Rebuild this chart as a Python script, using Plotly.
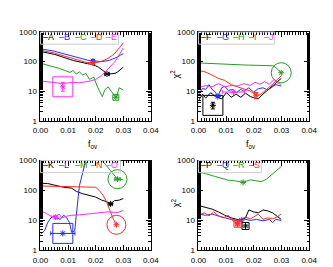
import plotly.graph_objects as go

W, H = 333, 267

# ---------------- data ----------------
# Panel 1 (A-E)
fA = [0, .001, .002, .003, .004, .005, .006, .007, .008, .009, .010, .011, .012, .013, .014, .015,
      .016, .017, .018, .019, .020, .021, .022, .023, .024, .025, .026, .027, .028, .029, .030]
chiA = [220, 212, 205, 195, 185, 175, 165, 152, 140, 130, 122, 115, 108, 102, 97, 92,
        88, 85, 82, 78, 72, 65, 55, 45, 40, 38, 40, 40, 45, 55, 65]
fB = fA
chiB = [270, 262, 255, 245, 235, 225, 212, 200, 185, 172, 160, 150, 142, 135, 128, 122,
        116, 112, 108, 105, 103, 101, 100, 102, 105, 110, 120, 130, 145, 165, 185]
fC = [0, .002, .004, .007, .0107, .0118, .0130, .0141, .0153, .0164, .0178, .0193, .0205,
      .0224, .0233, .0245, .0256, .0275, .0285, .030]
chiC = [88, 78, 68, 58, 43, 50, 38, 45, 35, 40, 25, 30, 15, 6.5, 11, 14, 10, 6, 13, 11]
fD = fA
chiD = [240, 232, 225, 215, 205, 195, 182, 170, 158, 148, 138, 130, 122, 115, 108, 102,
        97, 93, 91, 90, 92, 95, 100, 110, 122, 138, 160, 195, 245, 320, 430]
fE = [0, .002, .004, .006, .008, .010, .012, .014, .016, .018, .020, .021, .022, .023, .024,
      .025, .026, .027, .028, .029, .030]
chiE = [22, 21, 20, 19, 18, 19, 20, 19, 20, 22, 25, 28, 33, 40, 50, 60, 75, 100, 140, 200, 290]

# Panel 2 (F-J)
fF = [0, .0015, .0026, .0044, .0061, .0084, .0101, .0118, .0136, .0153, .0170, .0187, .0204,
      .0216, .0233, .0245, .0262, .0279, .0299]
chiF = [4.8, 7.9, 5.8, 8.9, 6.6, 5.5, 8.9, 6.2, 7.9, 6.2, 8.5, 6.6, 5.8, 5.5, 7.9, 10, 13, 19, 27]
fG = [0, .0015, .0026, .0038, .0049, .0061, .0070, .0084, .0095, .0107, .0124, .0136, .0153,
      .0164, .0182, .0199, .0216, .0233, .0250, .0268, .0279, .0299]
chiG = [7.9, 12.3, 11.4, 16.6, 11.4, 9.3, 6.6, 13, 14.7, 10.6, 11.4, 8.9, 11.4, 10, 13, 9.3,
        12, 13, 10.9, 14, 16.6, 14.7]
fH = [0, .002, .004, .006, .008, .010, .012, .014, .016, .018, .020, .022, .024, .026, .027,
      .028, .029, .0299]
chiH = [90, 88, 84, 82, 83, 80, 79, 78, 77, 76, 75, 74, 72, 73, 72, 62, 50, 42]
fI = [0, .0026, .0049, .0072, .0095, .0118, .0141, .0164, .0187, .0208, .0222, .0233, .0250,
      .0268, .0285, .0299]
chiI = [51, 44, 35, 27, 23, 16.6, 14, 12, 10, 7.3, 7.5, 9, 12, 17, 25, 33]
fJ = [0, .0026, .0049, .0072, .0095, .0118, .0141, .0164, .0187, .0204, .0222, .0239, .0256,
      .0273, .0285, .0299]
chiJ = [13, 15.5, 14, 18, 14, 15.5, 15, 18, 15.5, 20, 17, 21, 17, 25, 19, 16.6]

# Panel 3 (K-O)
fK = [0, .0026, .0049, .0084, .0113, .0130, .0153, .0176, .0199, .0222, .0239, .0254, .0268,
      .0285, .0300]
chiK = [172, 170, 151, 127, 118, 92, 77, 68, 60, 47, 42, 35, 45, 47, 53]
fL = [0, .0015, .0026, .0038, .0049, .0061, .0072, .0084, .0095, .0105, .0113, .0124, .0141,
      .0153, .0164, .0175]
chiL = [3.4, 4.4, 8.3, 12, 13.6, 12, 10.6, 14.7, 12, 8.3, 3.9, 4.4, 143, 390, 1050, 3000]
fM = [.022, .0239, .0262, .0279, .0300]
chiM = [1100, 670, 345, 237, 225]
fN = [0, .005, .010, .015, .020, .0213, .0227, .0239, .0250, .0262, .0275]
chiN = [140, 138, 137, 135, 127, 99, 68, 42, 22, 12, 7]
fO = [0, .0015, .0038, .0055, .0067, .0078, .0095, .0113, .0141, .0176, .0210, .0245, .0279,
      .0299]
chiO = [19, 18, 13.6, 12.6, 16, 12, 13.6, 14.7, 15, 16, 17.5, 19, 18, 21]

# Panel 4 (P-S)
fP = [0, .0026, .0049, .0072, .0095, .0118, .0136, .0153, .0170, .0182, .0199, .0216, .0233,
      .0250, .0268, .0285, .0299]
chiP = [31, 27, 23.5, 19, 14.6, 12, 10.6, 9.8, 12, 22, 19, 17.6, 22, 20.5, 17.6, 13.6, 10.6]
fQ = [0, .0026, .0049, .0072, .0095, .0118, .0141, .0164, .0187, .0210, .0233, .0256, .0268,
      .0279, .0299]
chiQ = [16, 14.6, 16, 13.6, 12, 10.6, 9.8, 11, 9.8, 10.6, 9.5, 10.6, 8.3, 10.6, 9.8]
fR = [0, .0026, .0061, .0084, .0107, .0130, .0153, .0161, .0187, .0210, .0227, .0245, .0262,
      .0279, .0300]
chiR = [407, 362, 290, 250, 220, 210, 194, 185, 225, 210, 195, 235, 318, 440, 640]
fS = [0, .0021, .0038, .0055, .0072, .0090, .0107, .0124, .0141, .0153, .0170, .0187, .0204,
      .0216, .0233, .0250, .0268, .0285, .0299]
chiS = [14.7, 17.6, 14, 19, 14, 12, 14.6, 9.5, 7.6, 11, 12.7, 11, 13.6, 16, 10.6, 12, 11, 13, 16]

# best-fit points: (f, chi2, f_err, chi2_err_plus, chi2_err_minus)
bestA = (0.0241, 38, 0.0008, 0, 0)
bestB = (0.0190, 105, 0, 12, 10)
bestC = (0.0273, 6.2, 0, 0, 0)
bestD = (0.0190, 90, 0.0005, 8, 8)
bestE = (0.0081, 14, 0, 6, 4)
bestF = (0.0052, 3.3, 0, 0.9, 0.8)
bestG = (0.0070, 6.6, 0, 0.6, 0.6)
bestH = (0.0299, 42, 0, 0, 0)
bestI = (0.0208, 7.3, 0, 1.7, 1.8)
bestJ = (0.0126, 9.3, 0.0040, 0, 0)
bestK = (0.0254, 35, 0.0006, 0, 0)
bestL = (0.0081, 3.6, 0.0044, 0, 0)
bestM = (0.0279, 237, 0.0010, 0, 0)
bestN = (0.0275, 7.0, 0, 0, 0)
bestO = (0.0055, 12.6, 0.0005, 1.5, 1.5)
bestP = (0.0170, 6.4, 0, 0, 0)
bestQ = (0.0155, 10, 0, 0, 0)
bestR = (0.0161, 185, 0, 0, 0)
bestS = (0.0141, 7.6, 0.0006, 1.2, 1.2)

x_ticks = [0, 0.01, 0.02, 0.03, 0.04]
x_ticktext = ["0.00", "0.01", "0.02", "0.03", "0.04"]
y_ticks = [1, 10, 100, 1000]
y_ticktext = ["1", "10", "100", "1000"]

# ---------------- styling ----------------
K, B, G, R, M = "#000000", "#2a2aff", "#22a022", "#ff2a2a", "#ff2aff"

panels = [
    dict(px=(25.7, 141.7), py=(20.7, 112.5), leg_w=82,
         series=[("A", fA, chiA, K, bestA, None), ("B", fB, chiB, B, bestB, None),
                 ("C", fC, chiC, G, bestC, ("square-open", 6)), ("D", fD, chiD, R, bestD, None),
                 ("E", fE, chiE, M, bestE, ("square-open", 20))]),
    dict(px=(191.7, 308.0), py=(20.7, 112.5), leg_w=80,
         series=[("F", fF, chiF, K, bestF, ("square-open", 20)), ("G", fG, chiG, B, bestG, None),
                 ("H", fH, chiH, G, bestH, ("circle-open", 20)), ("I", fI, chiI, R, bestI, None),
                 ("J", fJ, chiJ, M, bestJ, None)]),
    dict(px=(25.7, 141.7), py=(153.7, 246.3), leg_w=84,
         series=[("K", fK, chiK, K, bestK, None), ("L", fL, chiL, B, bestL, ("square-open", 20)),
                 ("M", fM, chiM, G, bestM, ("circle-open", 19)), ("N", fN, chiN, R, bestN, ("circle-open", 19)),
                 ("O", fO, chiO, M, bestO, None)]),
    dict(px=(191.7, 308.0), py=(153.7, 246.3), leg_w=66,
         series=[("P", fP, chiP, K, bestP, ("square-open", 7)), ("Q", fQ, chiQ, B, bestQ, None),
                 ("R", fR, chiR, G, bestR, None), ("S", fS, chiS, R, bestS, ("square-open", 7))]),
]

fig = go.Figure()
font_fam = "Liberation Sans, Arial, Helvetica, sans-serif"
annotations = []
shapes = []

for i, p in enumerate(panels):
    n = "" if i == 0 else str(i + 1)
    xa, ya = "x" + n, "y" + n
    for name, fx, cy, col, best, ring in p["series"]:
        fig.add_trace(go.Scatter(x=fx, y=cy, mode="lines", xaxis=xa, yaxis=ya,
                                 line=dict(color=col, width=1), showlegend=False,
                                 hoverinfo="skip"))
        bf, bc, bfe, bcp, bcm = best
        fig.add_trace(go.Scatter(
            x=[bf], y=[bc], mode="markers", xaxis=xa, yaxis=ya, showlegend=False,
            marker=dict(symbol="asterisk-open", size=5, color=col, line=dict(color=col, width=1)),
            error_x=dict(type="data", array=[bfe], color=col, thickness=1, width=2, visible=bfe > 0),
            error_y=dict(type="data", array=[bcp], arrayminus=[bcm], color=col, thickness=1,
                         width=2, visible=(bcp + bcm) > 0),
            hoverinfo="skip"))
        if ring:
            fig.add_trace(go.Scatter(
                x=[bf], y=[bc], mode="markers", xaxis=xa, yaxis=ya, showlegend=False,
                marker=dict(symbol=ring[0], size=ring[1], color=col,
                            line=dict(color=col, width=1)),
                hoverinfo="skip"))

    x0, x1 = p["px"]
    y0, y1 = p["py"]
    axis_common = dict(showline=True, linecolor="black", linewidth=1, mirror="allticks",
                       ticks="inside", ticklen=5, tickcolor="black", tickwidth=1,
                       showgrid=False, zeroline=False,
                       tickfont=dict(family=font_fam, size=8, color="black"))
    fig.layout["xaxis" + n] = dict(
        domain=[x0 / W, x1 / W], anchor=ya, range=[0, 0.04],
        tickvals=x_ticks, ticktext=x_ticktext,
        minor=dict(ticks="inside", ticklen=2.5, tickcolor="black", dtick=0.001, tick0=0, showgrid=False),
        ticklabelstandoff=2, **axis_common)
    fig.layout["yaxis" + n] = dict(
        domain=[1 - y1 / H, 1 - y0 / H], anchor=xa, type="log", range=[0, 3],
        tickvals=y_ticks, ticktext=y_ticktext,
        minor=dict(ticks="inside", ticklen=2.5, tickcolor="black", showgrid=False),
        ticklabelstandoff=1, **axis_common)

    # legend box
    shapes.append(dict(type="rect", xref="paper", yref="paper",
                       x0=x0 / W, x1=(x0 + p["leg_w"]) / W,
                       y0=1 - (y0 + 12.6) / H, y1=1 - y0 / H,
                       line=dict(color="#cccccc", width=1), fillcolor="rgba(0,0,0,0)"))
    for j, (name, fx, cy, col, best, ring) in enumerate(p["series"]):
        annotations.append(dict(
            text="\u2013" + name, x=(x0 + 1.0 + 16.5 * j) / W, y=1 - (y0 + 4.8) / H,
            xref="paper", yref="paper", xanchor="left", yanchor="middle", showarrow=False,
            font=dict(family=font_fam, size=9, color=col)))

    if i < 2:
        annotations.append(dict(text="f<sub>ov</sub>", x=((x0 + x1) / 2 - 3) / W, y=1 - 137 / H,
                                xref="paper", yref="paper", showarrow=False,
                                xanchor="center", yanchor="middle",
                                font=dict(family=font_fam, size=9, color="black")))
    if i % 2 == 1:
        annotations.append(dict(text="\u03c7<sup>2</sup>", x=168 / W, y=1 - ((y0 + y1) / 2 - 3) / H,
                                xref="paper", yref="paper", showarrow=False, textangle=-90,
                                xanchor="center", yanchor="middle",
                                font=dict(family=font_fam, size=9, color="black")))

fig.update_layout(width=W, height=H, margin=dict(l=0, r=0, t=0, b=0),
                  paper_bgcolor="white", plot_bgcolor="white",
                  annotations=annotations, shapes=shapes, showlegend=False)

fig.write_html("out.html")
